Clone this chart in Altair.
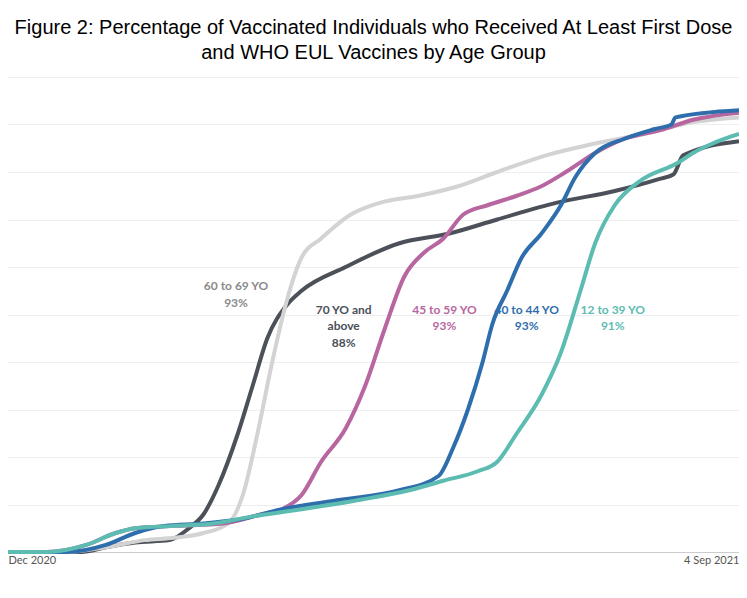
import pandas as pd
import altair as alt

# x positions are in day-steps along the period (0 = Dec 2020, 747 = 4 Sep)
x_70 = [0, 75, 100, 130, 165, 185, 200, 215, 235, 250, 265, 285, 300, 345, 400, 450, 500, 560, 620, 665, 680, 690, 747]
y_70 = [0, 0, 1, 2, 2.5, 5, 8, 14, 25, 35, 45, 52, 55, 60, 65, 67, 70, 73.5, 76, 78.5, 79.5, 83.5, 86.5]

x_60 = [0, 60, 100, 140, 170, 200, 225, 240, 255, 270, 285, 300, 320, 350, 380, 420, 460, 500, 550, 600, 650, 700, 747]
y_60 = [0, 0, 1, 2.5, 3, 4, 6, 12, 25, 40, 53, 62, 66, 71, 73.5, 75, 77, 80, 83.5, 86, 88, 90.5, 91.5]

x_45 = [0, 40, 80, 110, 130, 170, 220, 260, 280, 300, 320, 345, 365, 385, 405, 425, 445, 465, 490, 520, 545, 570, 600, 630, 670, 700, 747]
y_45 = [0, 0, 1.5, 4, 5, 5.5, 6, 8, 9, 12, 19, 26, 35, 47, 58, 63, 66, 71, 73, 75, 77, 80, 84, 87, 89, 91, 92.5]

x_40 = [0, 60, 100, 130, 160, 200, 240, 280, 340, 400, 440, 455, 470, 485, 495, 510, 525, 545, 565, 580, 600, 630, 660, 678, 682, 747]
y_40 = [0, 0, 1.5, 4, 5.5, 6, 7, 9, 11, 13, 16, 22, 30, 40, 48, 55, 62, 67, 73, 79, 84, 87, 89, 90, 91.5, 93]

x_12 = [0, 40, 80, 110, 130, 170, 210, 250, 300, 360, 410, 445, 480, 500, 520, 545, 565, 585, 600, 620, 645, 685, 700, 720, 747]
y_12 = [0, 0, 1.5, 4, 5, 5.5, 6, 7.5, 9, 11, 13, 15, 17, 19, 25, 33, 42, 55, 65, 73, 78, 82, 84, 86, 88]

groups = ["70 YO and above", "60 to 69 YO", "45 to 59 YO", "40 to 44 YO", "12 to 39 YO"]
colors = ["#4b5059", "#d3d3d3", "#b8669f", "#2f6eac", "#5cbcb1"]

rows = []
for g, xs, ys in zip(groups, [x_70, x_60, x_45, x_40, x_12], [y_70, y_60, y_45, y_40, y_12]):
    for x, y in zip(xs, ys):
        rows.append({"day": x, "pct": y, "group": g})
df = pd.DataFrame(rows)

# label annotations
lab_text = ["60 to 69 YO", "93%", "70 YO and", "above", "88%", "45 to 59 YO", "93%",
            "40 to 44 YO", "93%", "12 to 39 YO", "91%"]
lab_x = [233, 233, 343, 343, 343, 446, 446, 530, 530, 618, 618]
lab_y = [56, 52.5, 51, 47.5, 44, 51, 47.5, 51, 47.5, 51, 47.5]
lab_c = ["#8a8a8a", "#8a8a8a", "#4b5059", "#4b5059", "#4b5059", "#b8669f", "#b8669f",
         "#2f6eac", "#2f6eac", "#5cbcb1", "#5cbcb1"]
labels = pd.DataFrame({"day": lab_x, "pct": lab_y, "text": lab_text, "c": lab_c})

xs = alt.X("day:Q", scale=alt.Scale(domain=[0, 747], nice=False),
           axis=alt.Axis(title=None, grid=False, ticks=False, values=[0, 747],
                         labelExpr="datum.value == 0 ? 'Dec 2020' : '4 Sep 2021'",
                         labelFlush=True, labelColor="#555", labelFont="Lato",
                         labelFontSize=11, domainColor="#cccccc"))
ys = alt.Y("pct:Q", scale=alt.Scale(domain=[0, 100], nice=False),
           axis=alt.Axis(title=None, labels=False, ticks=False, domain=False,
                         values=list(range(0, 101, 10)), gridColor="#eeeeee"))

lines = alt.Chart(df).mark_line(strokeWidth=4, interpolate="monotone").encode(
    x=xs, y=ys,
    color=alt.Color("group:N", scale=alt.Scale(domain=groups, range=colors), legend=None),
    order=alt.Order("day:Q"),
)

text = alt.Chart(labels).mark_text(font="Lato", fontWeight="bold", fontSize=12).encode(
    x="day:Q", y="pct:Q", text="text:N", color=alt.Color("c:N", scale=None)
)

chart = alt.layer(lines, text).properties(
    width=731,
    height=475,
    autosize=alt.AutoSizeParams(type="none"),
    padding={"top": 69, "left": 0, "right": 0, "bottom": 30},
    title=alt.TitleParams(
        text=["Figure 2: Percentage of Vaccinated Individuals who Received At Least First Dose",
              "and WHO EUL Vaccines by Age Group"],
        font="Liberation Sans", fontSize=20, fontWeight="normal", color="#000",
        lineHeight=25, offset=14,
    ),
).configure_view(stroke=None)

chart.save("out.html", embed_options={"renderer": "svg", "actions": False})
